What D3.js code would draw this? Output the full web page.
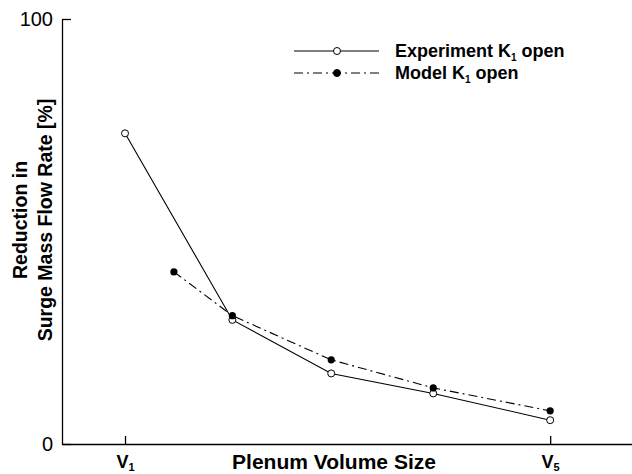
<!DOCTYPE html>
<html>
<head>
<meta charset="utf-8">
<script src="https://cdn.jsdelivr.net/npm/d3@7"></script>
<style>
  body { margin: 0; background: #fff; }
  svg { display: block; font-family: "Liberation Sans", Arial, Helvetica, sans-serif; }
</style>
</head>
<body>
<svg id="chart" width="632" height="474"></svg>
<script>
// Plenum volume positions (V1 = 1 ... V5 = 5) and reduction in surge mass flow rate [%]
const expVolume = [1, 2.01, 2.94, 3.9, 5];
const expReduction = [73.1, 29.2, 16.6, 11.9, 5.6];
const modelVolume = [1.46, 2.01, 2.94, 3.9, 5];
const modelReduction = [40.5, 30.2, 19.8, 13.2, 7.8];
const xTicks = [1, 5];
const xTickLabels = ["V", "V"];
const xTickSubs = ["1", "5"];
const yTicks = [0, 100];

const svg = d3.select("#chart");

const x = d3.scaleLinear().domain([0.407, 5.77]).range([62, 632]);
const y = d3.scaleLinear().domain([0, 100]).range([444, 19]);

// Axes with inward ticks
const yAxis = d3.axisLeft(y)
    .tickValues(yTicks)
    .tickSizeInner(-9)
    .tickSizeOuter(0)
    .tickPadding(9)
    .tickFormat(d3.format("d"));

const gy = svg.append("g")
    .attr("transform", "translate(62,0)")
    .call(yAxis);
gy.selectAll("text").style("font-size", "20px").attr("fill", "#000");
gy.selectAll("line, path").attr("stroke", "#000").attr("stroke-width", 1.3);

const xAxis = d3.axisBottom(x)
    .tickValues(xTicks)
    .tickSizeInner(-8)
    .tickSizeOuter(0)
    .tickFormat("");

const gx = svg.append("g")
    .attr("transform", "translate(0,444)")
    .call(xAxis);
gx.selectAll("line, path").attr("stroke", "#000").attr("stroke-width", 1.3);

// V labels with subscripts
gx.selectAll(".tick").each(function(d, i) {
    const t = d3.select(this).append("text")
        .attr("y", 24)
        .attr("fill", "#000")
        .attr("text-anchor", "middle")
        .style("font-size", "18px")
        .style("font-weight", "bold");
    t.append("tspan").text(xTickLabels[i]);
    t.append("tspan").attr("dy", 3).style("font-size", "11px").text(xTickSubs[i]);
});

// Axis titles
svg.append("text")
    .attr("x", 334)
    .attr("y", 469)
    .attr("text-anchor", "middle")
    .style("font-size", "21px")
    .style("font-weight", "bold")
    .text("Plenum Volume Size");

const yTitle = svg.append("text")
    .attr("transform", "translate(0,220) rotate(-90)")
    .attr("text-anchor", "middle")
    .style("font-size", "19.5px")
    .style("font-weight", "bold");
yTitle.append("tspan").attr("x", 0).attr("y", 27).text("Reduction in");
yTitle.append("tspan").attr("x", 0).attr("y", 52).text("Surge Mass Flow Rate [%]");

// Series
const expData = expVolume.map((v, i) => ({ v, r: expReduction[i] }));
const modelData = modelVolume.map((v, i) => ({ v, r: modelReduction[i] }));

const line = d3.line().x(d => x(d.v)).y(d => y(d.r));

svg.append("path")
    .datum(expData)
    .attr("d", line)
    .attr("fill", "none")
    .attr("stroke", "#000")
    .attr("stroke-width", 1.1);

svg.append("path")
    .datum(modelData)
    .attr("d", line)
    .attr("fill", "none")
    .attr("stroke", "#000")
    .attr("stroke-width", 1.1)
    .attr("stroke-dasharray", "9,4,2,4");

svg.selectAll(".expPt")
    .data(expData)
    .enter().append("circle")
    .attr("class", "expPt")
    .attr("cx", d => x(d.v))
    .attr("cy", d => y(d.r))
    .attr("r", 3.5)
    .attr("fill", "#fff")
    .attr("stroke", "#000")
    .attr("stroke-width", 1);

svg.selectAll(".modelPt")
    .data(modelData)
    .enter().append("circle")
    .attr("class", "modelPt")
    .attr("cx", d => x(d.v))
    .attr("cy", d => y(d.r))
    .attr("r", 3.6)
    .attr("fill", "#000");

// Legend
const legend = [
    { name: "Experiment K", dash: null, filled: false, y: 51 },
    { name: "Model K", dash: "9,4,2,4", filled: true, y: 73 }
];
const lg = svg.append("g");
legend.forEach(item => {
    lg.append("line")
        .attr("x1", 294).attr("x2", 379)
        .attr("y1", item.y).attr("y2", item.y)
        .attr("stroke", "#000")
        .attr("stroke-width", 1.1)
        .attr("stroke-dasharray", item.dash);
    lg.append("circle")
        .attr("cx", 337).attr("cy", item.y)
        .attr("r", 3.5)
        .attr("fill", item.filled ? "#000" : "#fff")
        .attr("stroke", "#000")
        .attr("stroke-width", 1);
    const t = lg.append("text")
        .attr("x", 395)
        .attr("y", item.y + 6)
        .style("font-size", "18px")
        .style("font-weight", "bold");
    t.append("tspan").text(item.name);
    t.append("tspan").attr("dy", 4).style("font-size", "10px").text("1");
    t.append("tspan").attr("dy", -4).text(" open");
});
</script>
</body>
</html>
